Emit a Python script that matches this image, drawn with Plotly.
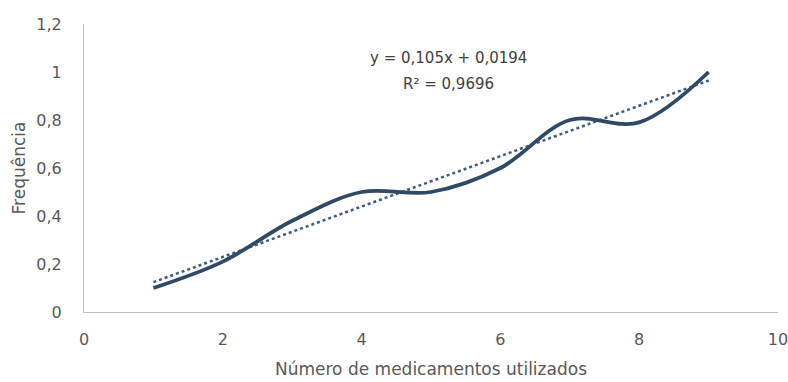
import plotly.graph_objects as go

x_vals = [1, 2, 3, 4, 5, 6, 7, 8, 9]
freq = [0.10, 0.21, 0.38, 0.50, 0.50, 0.60, 0.80, 0.79, 1.00]
slope = 0.105
intercept = 0.0194
eq_lines = ["y = 0,105x + 0,0194", "R² = 0,9696"]
x_ticks = [0, 2, 4, 6, 8, 10]
y_ticks = [0, 0.2, 0.4, 0.6, 0.8, 1.0, 1.2]
y_ticklabels = ["0", "0,2", "0,4", "0,6", "0,8", "1", "1,2"]

trend_x = [x_vals[0], x_vals[-1]]
trend_y = [slope * v + intercept for v in trend_x]

fig = go.Figure()
fig.add_trace(go.Scatter(x=trend_x, y=trend_y, mode="lines",
                         line=dict(color="#3E5C7A", width=2.5, dash="dot"),
                         showlegend=False, hoverinfo="skip"))
fig.add_trace(go.Scatter(x=x_vals, y=freq, mode="lines",
                         line=dict(color="#2E4A66", width=3.8, shape="spline", smoothing=1.0),
                         showlegend=False))

font_fam = "DejaVu Sans, sans-serif"
for txt, yv in zip(eq_lines, [1.058, 0.95]):
    fig.add_annotation(x=0.525, y=yv, xref="paper", yref="y", text=txt,
                       showarrow=False, font=dict(family=font_fam, size=15, color="#404040"),
                       align="center", yanchor="middle")

fig.update_layout(
    width=788, height=382,
    margin=dict(l=84, r=10, t=24, b=70),
    paper_bgcolor="white", plot_bgcolor="white",
    font=dict(family=font_fam, size=16, color="#595959"),
    xaxis=dict(range=[0, 10], tickvals=x_ticks, showgrid=False, zeroline=False,
               showline=True, linecolor="#BFBFBF", linewidth=1, ticks="",
               ticklabelstandoff=13, automargin=False, ticklabeloverflow="allow",
               tickfont=dict(size=16, color="#595959"),
               title=dict(text="Número de medicamentos utilizados", standoff=14,
                          font=dict(size=17, color="#595959"))),
    yaxis=dict(range=[0, 1.2], tickvals=y_ticks, ticktext=y_ticklabels, showgrid=False,
               zeroline=False, showline=True, linecolor="#BFBFBF", linewidth=1, ticks="",
               ticklabelstandoff=18, automargin=False,
               tickfont=dict(size=16, color="#595959"),
               title=dict(text="Frequência", standoff=6, font=dict(size=17, color="#595959"))),
)

fig.write_html("out.html", config={"displayModeBar": False},
               post_script="document.body.style.margin='0';document.body.style.overflow='hidden';")
